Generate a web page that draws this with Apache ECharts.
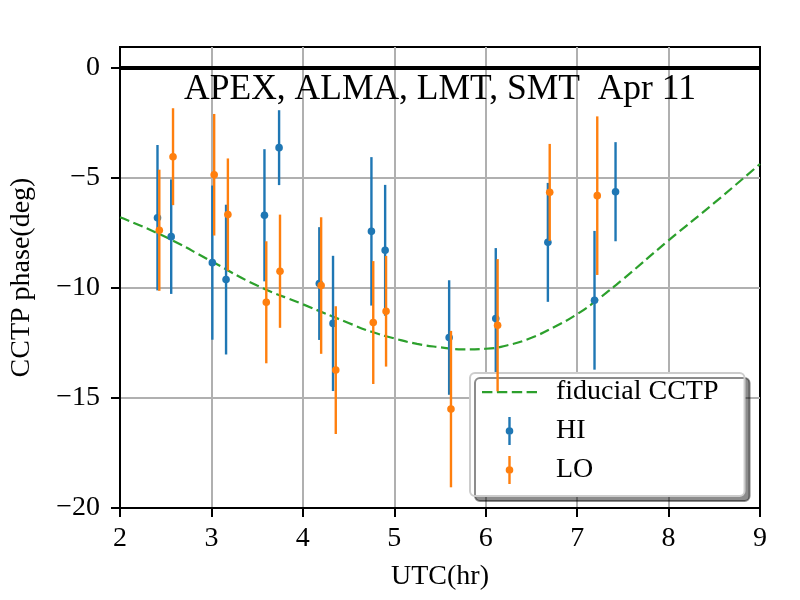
<!DOCTYPE html>
<html>
<head>
<meta charset="utf-8">
<script src="https://cdn.jsdelivr.net/npm/echarts@6/dist/echarts.min.js"></script>
<style>
  html, body { margin: 0; padding: 0; background: #fff; }
  #main { width: 800px; height: 600px; }
</style>
</head>
<body>
<div id="main"></div>
<script>
// 数据: HI / LO 闭合相位及误差
var hiX   = [2.41, 2.56, 3.01, 3.16, 3.58, 3.74, 4.18, 4.33, 4.75, 4.90, 5.60, 6.11, 6.68, 7.19, 7.42];
var hiY   = [-6.82, -7.68, -8.86, -9.63, -6.71, -3.64, -9.81, -11.62, -7.44, -8.30, -12.26, -11.40, -7.94, -10.57, -5.64];
var hiErr = [3.3, 2.6, 3.5, 3.4, 3.0, 1.7, 2.56, 3.07, 3.37, 2.97, 2.6, 3.2, 2.7, 3.15, 2.25];

var loX   = [2.43, 2.58, 3.03, 3.18, 3.60, 3.75, 4.20, 4.36, 4.77, 4.91, 5.62, 6.13, 6.70, 7.22];
var loY   = [-7.39, -4.05, -4.87, -6.68, -10.66, -9.25, -9.90, -13.74, -11.58, -11.07, -15.51, -11.70, -5.67, -5.82];
var loErr = [2.75, 2.2, 2.76, 2.55, 2.77, 2.57, 3.1, 2.9, 2.79, 2.51, 3.55, 3.0, 2.2, 3.6];

// fiducial CCTP 曲线
var curveX = [2, 2.5, 3, 3.5, 4, 4.5, 4.75, 5, 5.25, 5.5, 5.75, 6, 6.25, 6.5, 6.75, 7, 7.25, 7.5, 8, 8.5, 9];
var curveY = [-6.8, -7.7, -8.8, -9.9, -10.75, -11.6, -12.0, -12.3, -12.55, -12.7, -12.8, -12.77, -12.6, -12.27, -11.78, -11.2, -10.45, -9.62, -7.85, -6.15, -4.38];

var yTicks = [-20, -15, -10, -5, 0];
var zeroLine = 0;

var FONT = 'Liberation Serif';
// 图例图标: 误差棒 + 圆点, 虚线
var errIcon = 'path://M0,0L0.01,0Z M55,28L55.01,28Z M26.3,0h2.4v28h-2.4Z M23.7,14a3.8,3.8 0 1,1 7.6,0a3.8,3.8 0 1,1 -7.6,0Z';
var dashIcon = 'path://M0,0L0.01,0Z M55,28L55.01,28Z M0,13h10.4v2.2h-10.4Z M14.9,13h10.4v2.2h-10.4Z M29.8,13h10.4v2.2h-10.4Z M44.6,13h10.4v2.2h-10.4Z';

function minusFmt(v) {
    return String(v).replace('-', '\u2212');
}

function renderErr(params, api) {
    var x = api.value(0), y = api.value(1), e = api.value(2);
    var top = api.coord([x, y + e]);
    var bot = api.coord([x, y - e]);
    var c = api.coord([x, y]);
    var color = api.visual('color');
    return {
        type: 'group',
        children: [
            { type: 'line', shape: { x1: top[0], y1: top[1], x2: bot[0], y2: bot[1] }, style: { stroke: color, lineWidth: 2.4 } },
            { type: 'circle', shape: { cx: c[0], cy: c[1], r: 3.8 }, style: { fill: color } }
        ]
    };
}

var myChart = echarts.init(document.getElementById('main'));

var option = {
    animation: false,
    backgroundColor: '#fff',
    textStyle: { fontFamily: FONT },
    title: {
        text: 'APEX, ALMA, LMT, SMT  Apr 11',
        left: 440,
        top: 72,
        padding: 0,
        textAlign: 'center',
        textStyle: { fontFamily: FONT, fontSize: 35.5, fontWeight: 'normal', color: '#000' }
    },
    grid: {
        left: 120, right: 40, top: 47, bottom: 92,
        show: true, borderColor: '#000', borderWidth: 2, backgroundColor: '#fff'
    },
    legend: {
        orient: 'vertical',
        left: 470,
        top: 373,
        padding: [5, 26, 12, 12],
        itemGap: 11,
        itemWidth: 55,
        itemHeight: 28,
        backgroundColor: '#fff',
        borderColor: '#cccccc',
        borderWidth: 2,
        borderRadius: 5,
        shadowColor: 'rgba(0,0,0,0.45)',
        shadowBlur: 0,
        shadowOffsetX: 5,
        shadowOffsetY: 5,
        formatter: function (name) { return '  ' + name; },
        textStyle: { fontFamily: FONT, fontSize: 28, color: '#000' },
        data: [
            { name: 'fiducial CCTP', icon: dashIcon },
            { name: 'HI', icon: errIcon },
            { name: 'LO', icon: errIcon }
        ]
    },
    xAxis: {
        type: 'value',
        min: 2, max: 9, interval: 1,
        name: 'UTC(hr)',
        nameLocation: 'middle',
        nameGap: 55,
        nameTextStyle: { fontFamily: FONT, fontSize: 28, color: '#000' },
        axisLine: { show: true, onZero: false, lineStyle: { color: '#000', width: 2 } },
        axisTick: { show: true, length: 9, lineStyle: { color: '#000', width: 2 } },
        axisLabel: { fontFamily: FONT, fontSize: 28, color: '#000', margin: 17 },
        splitLine: { show: true, showMinLine: false, showMaxLine: false, lineStyle: { color: '#b0b0b0', width: 2 } }
    },
    yAxis: {
        type: 'value',
        min: -20, max: 0.93, interval: 5,
        name: 'CCTP phase(deg)',
        nameLocation: 'middle',
        nameGap: 84,
        nameTextStyle: { fontFamily: FONT, fontSize: 28, color: '#000' },
        axisLine: { show: true, lineStyle: { color: '#000', width: 2 } },
        axisTick: { show: true, length: 9, customValues: yTicks, lineStyle: { color: '#000', width: 2 } },
        axisLabel: { customValues: yTicks, fontFamily: FONT, fontSize: 28, color: '#000', margin: 20, formatter: minusFmt },
        splitLine: { show: true, showMinLine: false, showMaxLine: false, lineStyle: { color: '#b0b0b0', width: 2 } }
    },
    series: [
        {
            name: 'fiducial CCTP',
            type: 'line',
            smooth: true,
            symbol: 'none',
            showSymbol: false,
            color: '#2ca02c',
            lineStyle: { color: '#2ca02c', width: 2.2, type: [10, 4.5] },
            data: curveX.map(function (x, i) { return [x, curveY[i]]; }),
            markLine: {
                silent: true,
                symbol: ['none', 'none'],
                label: { show: false },
                lineStyle: { color: '#000', width: 4, type: 'solid' },
                data: [{ yAxis: zeroLine }]
            },
            z: 2
        },
        {
            name: 'HI',
            type: 'custom',
            color: '#1f77b4',
            itemStyle: { color: '#1f77b4' },
            renderItem: renderErr,
            encode: { x: 0, y: 1 },
            data: hiX.map(function (x, i) { return [x, hiY[i], hiErr[i]]; }),
            z: 3
        },
        {
            name: 'LO',
            type: 'custom',
            color: '#ff7f0e',
            itemStyle: { color: '#ff7f0e' },
            renderItem: renderErr,
            encode: { x: 0, y: 1 },
            data: loX.map(function (x, i) { return [x, loY[i], loErr[i]]; }),
            z: 4
        }
    ]
};

myChart.setOption(option);
</script>
</body>
</html>
